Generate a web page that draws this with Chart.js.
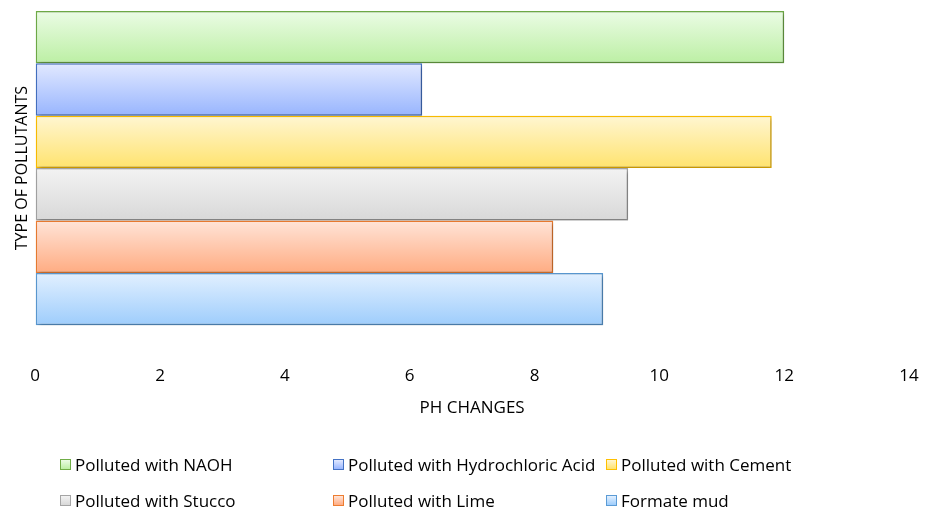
<!DOCTYPE html>
<html>
<head>
<meta charset="utf-8">
<script src="https://cdn.jsdelivr.net/npm/chart.js@4.4.1/dist/chart.umd.min.js"></script>
<style>
  html, body { margin: 0; padding: 0; background: #fff; }
  #wrap { position: relative; width: 933px; height: 513px; font-family: "Open Sans", Lato, sans-serif; }
  #chart { position: absolute; left: 0; top: 0; }
  .legend { position: absolute; left: 0; top: 0; width: 933px; height: 513px; pointer-events: none; }
  .legend .item { position: absolute; display: flex; align-items: center; font-size: 17px; color: #000; white-space: nowrap; }
  .legend .box { width: 9px; height: 9px; margin-right: 4px; border: 1px solid; }
</style>
</head>
<body>
<div id="wrap">
  <canvas id="chart" width="933" height="513"></canvas>
  <div class="legend" id="legend"></div>
</div>
<script>
// ---- Data ----
const categories = [''];
const seriesNames = [
  'Polluted with NAOH',
  'Polluted with Hydrochloric Acid',
  'Polluted with Cement',
  'Polluted with Stucco',
  'Polluted with Lime',
  'Formate mud'
];
const phValues = [12.0, 6.2, 11.8, 9.5, 8.3, 9.1];
const xTicks = [0, 2, 4, 6, 8, 10, 12, 14];

// border, gradient top, gradient bottom
const palette = [
  ['#70AD47', '#EBFCE5', '#BCEFA4'],
  ['#4472C4', '#E2E9FF', '#98B5FE'],
  ['#FFC000', '#FFF6D2', '#FFE36E'],
  ['#A5A5A5', '#F3F3F3', '#D8D8D8'],
  ['#ED7D31', '#FFE4D8', '#FFAC82'],
  ['#5B9BD5', '#E2F0FF', '#9ECDFC']
];

// gradient fill + soft shadow like the original
const barLook = {
  id: 'barLook',
  beforeDatasetDraw(chart, args) {
    const c = chart.ctx;
    const p = palette[args.index];
    args.meta.data.forEach(el => {
      const top = el.y - el.height / 2;
      const g = c.createLinearGradient(0, top, 0, top + el.height);
      g.addColorStop(0, p[1]);
      g.addColorStop(1, p[2]);
      el.options.backgroundColor = g;
    });
    c.save();
    c.shadowColor = 'rgba(0,0,0,0.28)';
    c.shadowBlur = 4;
    c.shadowOffsetX = 2;
    c.shadowOffsetY = 2;
  },
  afterDatasetDraw(chart) {
    chart.ctx.restore();
  }
};

const datasets = seriesNames.map((name, i) => ({
  label: name,
  data: [phValues[i]],
  backgroundColor: palette[i][2],
  borderColor: palette[i][0],
  borderWidth: 1.5,
  borderSkipped: false,
  barPercentage: 1,
  categoryPercentage: 0.935
}));

const axisFont = { family: 'Open Sans', size: 17 };

const chart = new Chart(document.getElementById('chart'), {
  type: 'bar',
  data: { labels: categories, datasets },
  plugins: [barLook],
  options: {
    indexAxis: 'y',
    responsive: false,
    animation: false,
    layout: { padding: { top: 0, right: 24, bottom: 95, left: 0 } },
    plugins: {
      legend: { display: false },
      tooltip: { enabled: false }
    },
    scales: {
      x: {
        min: 0,
        max: 14,
        afterBuildTicks: axis => { axis.ticks = xTicks.map(v => ({ value: v })); },
        // invisible tick marks only push the labels down
        grid: { display: true, drawOnChartArea: false, color: 'rgba(0,0,0,0)', tickLength: 27 },
        border: { display: false },
        ticks: { color: '#000', font: axisFont, padding: 3, maxRotation: 0 },
        title: { display: true, text: 'PH CHANGES', color: '#000', font: axisFont, padding: { top: 8, bottom: 0 } }
      },
      y: {
        grid: { display: false },
        border: { display: false },
        ticks: { display: false },
        title: { display: true, text: 'TYPE OF POLLUTANTS', color: '#000', font: { family: 'Open Sans', size: 16 }, padding: { top: 13, bottom: -5 } }
      }
    }
  }
});

// ---- HTML legend (3 columns, 2 rows) ----
const legend = document.getElementById('legend');
const colX = [60, 333, 606];
const rowY = [453, 489];
chart.data.datasets.forEach((ds, i) => {
  const p = palette[i];
  const item = document.createElement('div');
  item.className = 'item';
  item.style.left = colX[i % 3] + 'px';
  item.style.top = rowY[Math.floor(i / 3)] + 'px';
  item.innerHTML = `<span class="box" style="border-color:${p[0]};background:linear-gradient(${p[1]},${p[2]})"></span>${ds.label}`;
  legend.appendChild(item);
});
</script>
</body>
</html>
